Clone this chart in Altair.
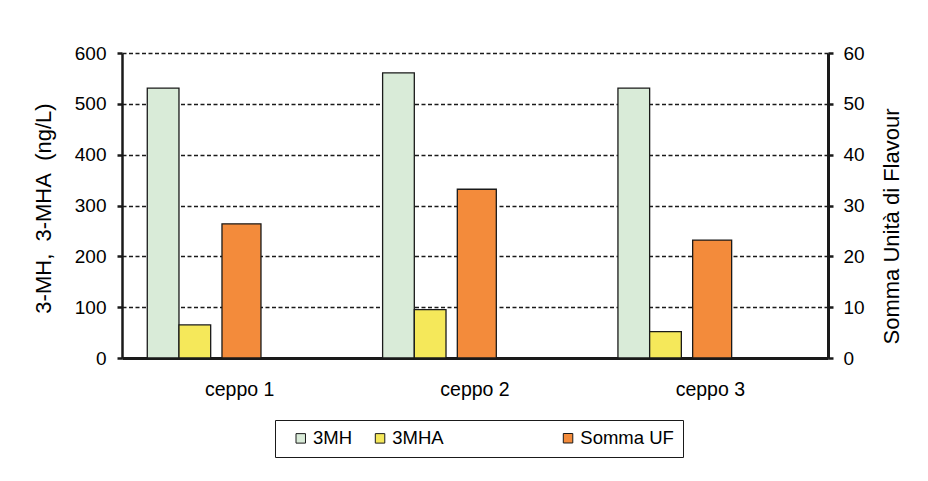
import altair as alt
import pandas as pd

categories = ["ceppo 1", "ceppo 2", "ceppo 3"]
mh_values = [531, 561, 531]
mha_values = [65, 95, 52]
uf_values = [26.4, 33.2, 23.2]
primary_names = ["3MH", "3MHA"]
primary_colors = ["#d9ebd8", "#f5e85a"]
secondary_names = ["Somma UF"]
secondary_colors = ["#f38b3b"]
left_ticks = [0, 100, 200, 300, 400, 500, 600]
right_ticks = [0, 10, 20, 30, 40, 50, 60]

# sub-band slots inside each category (empty slots reproduce Excel's spacing)
primary_slots = ["3MH", "3MHA", "s1", "s2", "s3", "s4"]
secondary_slots = ["t1", "t2", "Somma UF", "t3", "t4"]

rows = []
for c, a, b in zip(categories, mh_values, mha_values):
    rows.append({"ceppo": c, "serie": "3MH", "valore": a})
    rows.append({"ceppo": c, "serie": "3MHA", "valore": b})
primary = pd.DataFrame(rows)
secondary = pd.DataFrame({"ceppo": categories, "serie": ["Somma UF"] * 3, "valore": uf_values})

FONT = "Liberation Sans"
INK = "#1a1a1a"
NBSP = "\u00a0"

common_legend = dict(
    direction="horizontal", orient="none",
    symbolType="square", symbolSize=90, symbolStrokeColor=INK, symbolStrokeWidth=1,
    labelFontSize=18.5, labelFont=FONT, labelColor="black", labelOffset=3,
    labelLimit=400, columnPadding=18.3,
)

x_enc = alt.X(
    "ceppo:N",
    sort=categories,
    scale=alt.Scale(domain=categories, paddingInner=0, paddingOuter=0),
    axis=alt.Axis(
        title=None, ticks=False, labelPadding=22, labelFontSize=19.5, labelAngle=0,
        labelColor="black", domainColor=INK, domainWidth=3, grid=False,
    ),
)

left = alt.Chart(primary).mark_bar(stroke=INK, strokeWidth=1.3).encode(
    x=x_enc,
    xOffset=alt.XOffset(
        "serie:N",
        scale=alt.Scale(domain=primary_slots, paddingInner=0, paddingOuter=0.712, align=0.56),
    ),
    y=alt.Y(
        "valore:Q",
        scale=alt.Scale(domain=[0, 600], nice=False),
        axis=alt.Axis(
            orient="left", values=left_ticks, title="3-MH," + NBSP + " 3-MHA" + NBSP + " (ng/L)",
            grid=True, gridDash=[4, 2.5], gridColor=INK, gridWidth=1.3,
            tickSize=5, tickWidth=2.5, tickColor=INK, domainColor=INK, domainWidth=2.5,
            labelPadding=11, labelFontSize=19, labelColor="black",
            titleFontSize=22, titleFontWeight="normal", titleColor="black",
            titleAngle=270, titleX=-78.5, titleY=155, titleBaseline="middle", titleAlign="center",
        ),
    ),
    color=alt.Color(
        "serie:N",
        scale=alt.Scale(domain=primary_names, range=primary_colors),
        legend=alt.Legend(title=None, legendX=169.5, legendY=376, padding=0, columns=2, **common_legend),
    ),
)

right = alt.Chart(secondary).mark_bar(stroke=INK, strokeWidth=1.3).encode(
    x=x_enc,
    xOffset=alt.XOffset(
        "serie:N",
        scale=alt.Scale(domain=secondary_slots, paddingInner=0, paddingOuter=0.517, align=0.545),
    ),
    y=alt.Y(
        "valore:Q",
        scale=alt.Scale(domain=[0, 60], nice=False),
        axis=alt.Axis(
            orient="right", values=right_ticks, title="Somma Unità di Flavour",
            grid=False, tickSize=5, tickWidth=2.5, tickColor=INK, domainColor=INK, domainWidth=3,
            labelPadding=10, labelFontSize=19, labelColor="black",
            titleFontSize=22, titleFontWeight="normal", titleColor="black",
            titleAngle=270, titleX=63.5, titleY=173, titleBaseline="middle", titleAlign="center",
        ),
    ),
    color=alt.Color(
        "serie:N",
        scale=alt.Scale(domain=secondary_names, range=secondary_colors),
        legend=alt.Legend(
            title=NBSP, titleOrient="left", titleFontSize=1, titlePadding=274.8,
            legendX=153, legendY=367, padding=9, columns=1, strokeColor=INK,
            **common_legend,
        ),
    ),
)

chart = (
    alt.layer(left, right)
    .resolve_scale(y="independent", xOffset="independent", color="independent")
    .properties(
        width=706, height=305,
        padding={"left": 114, "top": 45, "right": 92, "bottom": 115},
        autosize=alt.AutoSizeParams(type="none"),
        background="white",
    )
    .configure_axis(labelFont=FONT, titleFont=FONT)
    .configure_legend(labelFont=FONT, titleFont=FONT)
    .configure_view(stroke=None)
)

chart.save("out.html", embed_options={"renderer": "svg", "actions": False})
